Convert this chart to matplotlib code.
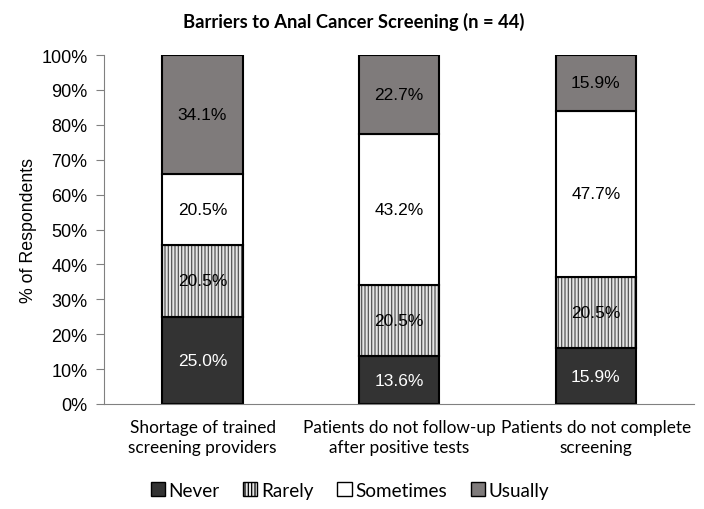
import matplotlib
matplotlib.use("Agg")
import matplotlib.pyplot as plt
import numpy as np
from matplotlib.patches import Patch

categories = ["Shortage of trained\nscreening providers",
              "Patients do not follow-up\nafter positive tests",
              "Patients do not complete\nscreening"]
never = [25.0, 13.6, 15.9]
rarely = [20.5, 20.5, 20.5]
sometimes = [20.5, 43.2, 47.7]
usually = [34.1, 22.7, 15.9]
series_names = ["Never", "Rarely", "Sometimes", "Usually"]

plt.rcParams['hatch.linewidth'] = 0.9
fig = plt.figure(figsize=(7.04, 5.10), dpi=100)
ax = fig.add_axes([0.148, 0.206, 0.838, 0.684])

x = np.arange(len(categories))
w = 0.41
bottom = np.zeros(3)
styles = [
    dict(color="#333333", edgecolor="black", hatch=None, txt="white"),
    dict(color="#e6e6e6", edgecolor="#555555", hatch="|||||", txt="black"),
    dict(color="white", edgecolor="black", hatch=None, txt="black"),
    dict(color="#7f7b7b", edgecolor="black", hatch=None, txt="black"),
]
for vals, st in zip([never, rarely, sometimes, usually], styles):
    vals = np.array(vals)
    ax.bar(x, vals, w, bottom=bottom, color=st["color"],
           edgecolor=st["edgecolor"], linewidth=1.5, hatch=st["hatch"])
    if st["hatch"]:
        ax.bar(x, vals, w, bottom=bottom, fill=False, edgecolor="black", linewidth=1.5)
    for xi, b, v in zip(x, bottom, vals):
        ax.text(xi, b + v / 2, f"{v:.1f}%", ha="center", va="center",
                color=st["txt"], fontsize=12.5, family="Liberation Sans")
    bottom = bottom + vals

ax.set_xlim(-0.5, 2.5)
ax.set_ylim(0, 100)
ax.set_yticks(np.arange(0, 101, 10))
ax.set_yticklabels([f"{v}%" for v in range(0, 101, 10)], family="Liberation Sans", fontsize=13)
ax.set_xticks(x)
ax.set_xticklabels(categories, fontsize=12.4, family="Lato", linespacing=1.3)
ax.tick_params(axis="x", length=0, pad=11)
ax.tick_params(axis="y", length=6, direction="out", color="#808080", pad=6)
for s in ["top", "right"]:
    ax.spines[s].set_visible(False)
ax.spines["left"].set_color("#808080")
ax.spines["bottom"].set_color("#808080")
ax.set_ylabel("% of Respondents", family="Liberation Sans", fontsize=12.8, labelpad=3)
fig.suptitle("Barriers to Anal Cancer Screening (n = 44)", fontsize=13.2,
             fontweight="bold", family="Lato", x=0.503, y=0.957, va="center")

handles = [Patch(facecolor=st["color"], edgecolor="black", hatch=st["hatch"], label=n)
           for st, n in zip(styles, series_names)]
fig.legend(handles=handles, loc="center", bbox_to_anchor=(0.497, 0.037), ncol=4,
           frameon=False, prop=dict(family="Lato", size=13.6), handlelength=0.75,
           handleheight=0.75, handletextpad=0.2, columnspacing=1.25)

fig.savefig("out.png", dpi=100)
